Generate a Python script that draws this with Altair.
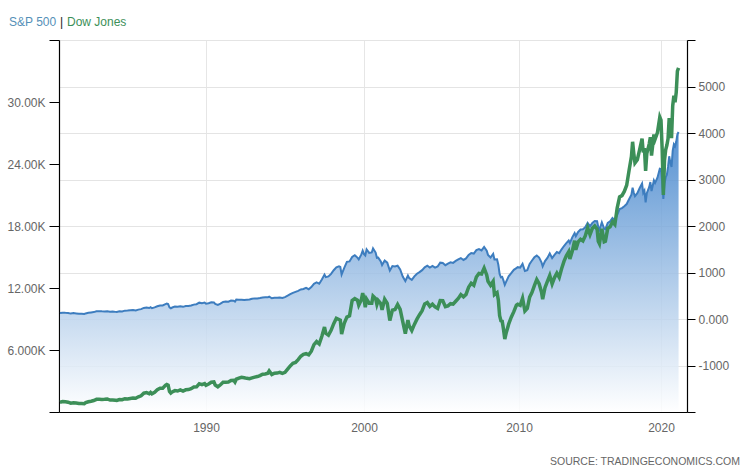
import altair as alt
import pandas as pd

# ---- data (month, Dow Jones, S&P 500) ----
months = [
 "1981-01","1981-03","1981-05","1981-07","1981-09","1981-11","1982-01","1982-03","1982-05","1982-07","1982-08","1982-10","1982-12",
 "1983-02","1983-04","1983-06","1983-08","1983-10","1983-12","1984-02","1984-04","1984-06","1984-07","1984-09","1984-11",
 "1985-01","1985-03","1985-05","1985-07","1985-09","1985-11","1986-01","1986-03","1986-05","1986-07","1986-08","1986-09","1986-11",
 "1987-01","1987-03","1987-05","1987-07","1987-08","1987-09","1987-10","1987-11","1987-12","1988-02","1988-04","1988-06","1988-08","1988-10","1988-12",
 "1989-02","1989-04","1989-06","1989-08","1989-10","1989-12","1990-01","1990-03","1990-05","1990-07","1990-08","1990-10","1990-12",
 "1991-02","1991-04","1991-06","1991-08","1991-10","1991-11","1991-12","1992-02","1992-04","1992-06","1992-08","1992-10","1992-12",
 "1993-02","1993-04","1993-06","1993-08","1993-10","1993-12","1994-01","1994-03","1994-05","1994-07","1994-09","1994-11",
 "1995-01","1995-03","1995-05","1995-07","1995-09","1995-11","1996-01","1996-03","1996-05","1996-07","1996-09","1996-11",
 "1997-01","1997-03","1997-05","1997-07","1997-08","1997-10","1997-12","1998-02","1998-04","1998-06","1998-07","1998-08","1998-10","1998-12",
 "1999-02","1999-04","1999-06","1999-08","1999-09","1999-11","1999-12","2000-01","2000-02","2000-03","2000-05","2000-07","2000-08","2000-10","2000-11","2000-12",
 "2001-02","2001-03","2001-05","2001-07","2001-09","2001-11","2002-01","2002-03","2002-05","2002-07","2002-09","2002-11","2002-12",
 "2003-02","2003-04","2003-06","2003-08","2003-10","2003-12","2004-02","2004-04","2004-06","2004-08","2004-10","2004-12",
 "2005-02","2005-04","2005-06","2005-08","2005-10","2005-12","2006-02","2006-04","2006-06","2006-08","2006-10","2006-12",
 "2007-02","2007-04","2007-06","2007-08","2007-10","2007-12","2008-01","2008-03","2008-05","2008-06","2008-08","2008-09","2008-10","2008-11","2008-12",
 "2009-01","2009-02","2009-03","2009-05","2009-07","2009-09","2009-11","2009-12","2010-02","2010-04","2010-06","2010-08","2010-10","2010-12",
 "2011-02","2011-04","2011-06","2011-08","2011-09","2011-11","2012-01","2012-03","2012-05","2012-07","2012-09","2012-11",
 "2013-01","2013-03","2013-05","2013-07","2013-08","2013-10","2013-12","2014-01","2014-03","2014-05","2014-07","2014-09","2014-11",
 "2015-01","2015-03","2015-05","2015-07","2015-08","2015-09","2015-11","2016-01","2016-02","2016-04","2016-06","2016-08","2016-10","2016-12",
 "2017-02","2017-04","2017-06","2017-08","2017-10","2017-12","2018-01","2018-02","2018-03","2018-05","2018-07","2018-09","2018-10","2018-11","2018-12",
 "2019-01","2019-03","2019-04","2019-05","2019-07","2019-08","2019-10","2019-12","2020-01","2020-02","2020-03","2020-04","2020-05","2020-06",
 "2020-07","2020-08","2020-09","2020-10","2020-11","2020-12","2021-01","2021-02","2021-03","2021-04",
]
dow = [
 947,1004,992,952,850,889,871,822,820,809,901,992,1046,
 1113,1226,1222,1216,1225,1259,1155,1171,1132,1115,1207,1189,
 1287,1267,1315,1348,1329,1472,1571,1819,1877,1775,1898,1768,1914,
 2158,2305,2292,2572,2663,2596,1994,1834,1939,2072,2032,2142,2032,2149,2169,
 2258,2419,2440,2737,2645,2753,2591,2707,2877,2905,2614,2442,2634,
 2882,2888,2907,3044,3069,2895,3169,3267,3359,3319,3257,3226,3301,
 3371,3428,3516,3651,3681,3754,3978,3636,3758,3765,3843,3739,
 3844,4158,4465,4709,4789,5075,5395,5588,5643,5529,5882,6522,
 6813,6584,7331,8223,7622,7442,7908,8546,9063,8952,8883,7539,8592,9181,
 9307,10789,10971,10829,10337,10878,11497,10941,10128,10922,10522,10522,11215,10971,10415,10788,
 10495,9879,10912,10523,8848,9852,9920,10404,9925,8737,7592,8896,8342,
 7891,8480,8985,9416,9801,10454,10584,10226,10435,10174,10027,10783,
 10766,10193,10275,10482,10440,10718,10993,11367,11150,11381,12081,12463,
 12269,13063,13409,13358,13930,13265,12650,12263,12638,11350,11544,10851,9325,8829,8776,
 8001,7063,7609,8500,9172,9712,10345,10428,10325,11009,9774,10015,11118,11578,
 12226,12811,12414,11614,10913,12046,12633,13212,12393,13009,13437,13026,
 13861,14579,15116,15500,14810,15546,16577,15699,16458,16717,16563,17043,17828,
 17165,17776,18011,17690,16528,16285,17720,16466,16517,17774,17930,18401,18142,19763,
 20812,20941,21350,21948,23377,24719,26149,25029,24103,24416,25415,26458,25116,25538,23327,
 24999,25929,26593,24815,26864,26403,27046,28538,28256,25409,21000,24346,25383,25813,
 26428,28430,27782,26502,29639,30606,29983,30932,32982,33300,
]
spx = [
 129.6,136.0,132.6,131.0,116.2,126.4,120.4,112.0,111.9,107.1,119.5,133.7,140.6,
 148.1,164.4,168.1,164.4,163.6,164.9,157.1,160.1,153.2,150.7,166.1,163.6,
 179.6,180.7,189.6,190.9,182.1,202.2,211.8,238.9,247.4,236.1,252.9,231.3,249.2,
 274.1,291.7,290.1,318.7,329.8,321.8,251.8,230.3,247.1,267.8,261.3,273.5,261.5,279.0,277.7,
 288.9,309.6,318.0,351.5,340.4,353.4,329.1,339.9,361.2,356.2,322.6,304.0,330.2,
 367.1,375.3,371.2,395.4,392.5,375.2,417.1,412.7,415.0,408.1,414.0,418.7,435.7,
 443.4,440.2,450.5,463.6,467.8,466.5,481.6,445.8,456.5,458.3,462.7,453.7,
 470.4,500.7,533.4,562.1,584.4,605.4,636.0,645.5,669.1,640.0,687.3,757.0,
 786.2,757.1,848.3,954.3,899.5,914.6,970.4,1049.3,1111.8,1133.8,1120.7,957.3,1098.7,1229.2,
 1238.3,1335.2,1372.7,1320.4,1282.7,1389.0,1469.3,1394.5,1366.4,1498.6,1420.6,1430.8,1517.7,1429.4,1315.0,1320.3,
 1239.9,1160.3,1255.8,1211.2,1040.9,1139.5,1130.2,1147.4,1067.1,911.6,815.3,936.3,879.8,
 841.2,916.9,974.5,1008.0,1050.7,1111.9,1144.9,1107.3,1140.8,1104.2,1130.2,1211.9,
 1203.6,1156.9,1191.3,1220.3,1207.0,1248.3,1280.7,1310.6,1270.2,1303.8,1377.9,1418.3,
 1406.8,1482.4,1503.4,1474.0,1549.4,1468.4,1378.6,1322.7,1400.4,1280.0,1282.8,1166.4,968.8,896.2,903.3,
 825.9,735.1,797.9,919.1,987.5,1057.1,1095.6,1115.1,1104.5,1186.7,1030.7,1049.3,1183.3,1257.6,
 1327.2,1363.6,1320.6,1218.9,1131.4,1247.0,1312.4,1408.5,1310.3,1379.3,1440.7,1416.2,
 1498.1,1569.2,1630.7,1685.7,1633.0,1756.5,1848.4,1782.6,1872.3,1923.6,1930.7,1972.3,2067.6,
 1995.0,2067.9,2107.4,2103.8,1972.2,1920.0,2080.4,1940.2,1932.2,2065.3,2098.9,2171.0,2126.2,2238.8,
 2363.6,2384.2,2423.4,2471.7,2575.3,2673.6,2823.8,2713.8,2640.9,2705.3,2816.3,2914.0,2711.7,2760.2,2506.9,
 2704.1,2834.4,2945.8,2752.1,2980.4,2926.5,3037.6,3230.8,3225.5,2954.2,2584.6,2912.4,3044.3,3100.3,
 3271.1,3500.3,3363.0,3270.0,3621.6,3756.1,3714.2,3811.2,3972.9,4020.0,
]

legend_parts = ["S&P 500", "|", "Dow Jones"]
source_text = ["SOURCE: TRADINGECONOMICS.COM"]
year_ticks = [1990, 2000, 2010, 2020]
dow_ticks = [0, 6000, 12000, 18000, 24000, 30000, 36000]
spx_ticks = [-2000, -1000, 0, 1000, 2000, 3000, 4000, 5000, 6000]

yr = [int(m[:4]) + (int(m[5:]) - 1) / 12 for m in months]
df = pd.DataFrame({"yr": yr, "dow": dow, "spx": spx})

FONT = "Liberation Sans"
LABEL = "#666666"
W, H = 628, 372

xscale = alt.Scale(domain=[1980.94, 1990, 2000, 2010, 2020, 2021.85],
                   range=[0, 147, 305, 460, 602, 628], nice=False, zero=False)
xaxis = alt.Axis(values=year_ticks, format="d", title=None, grid=True, gridColor="#e6e6e6",
                 tickSize=0, labelPadding=10, domainColor="#000000", domainWidth=1.2,
                 labelColor=LABEL, labelFontSize=12, labelFont=FONT)
X = alt.X("yr:Q", scale=xscale, axis=xaxis)

spx_scale = alt.Scale(domain=[-2000, 6000], nice=False, zero=False)
dow_scale = alt.Scale(domain=[0, 36000], nice=False, zero=False)

base = alt.Chart(df)

area = base.mark_area(
    color=alt.Gradient(gradient="linear",
                       stops=[alt.GradientStop(color="#3a7fca", offset=0),
                              alt.GradientStop(color="#ffffff", offset=1)],
                       x1=1, x2=1, y1=0, y2=1),
    opacity=0.85,
).encode(
    x=X,
    y=alt.Y("spx:Q", scale=spx_scale,
            axis=alt.Axis(orient="right", values=spx_ticks, title=None, grid=True,
                          gridColor="#e4e4e4", tickSize=8, tickColor="#000000",
                          domainColor="#000000", domainWidth=1.2, labelPadding=3,
                          labelColor=LABEL, labelFontSize=12, labelFont=FONT,
                          labelExpr="datum.value == -2000 || datum.value == 6000 ? '' : (datum.value == 0 ? '0.000' : toString(datum.value))")),
    y2=alt.datum(-2000),
)

spx_line = base.mark_line(color="#3d7dbf", strokeWidth=2).encode(
    x=X, y=alt.Y("spx:Q", scale=spx_scale, axis=None)
)

dow_line = base.mark_line(color="#3c8f58", strokeWidth=3.5).encode(
    x=X,
    y=alt.Y("dow:Q", scale=dow_scale,
            axis=alt.Axis(orient="left", values=dow_ticks, title=None, grid=False,
                          tickSize=10, tickColor="#000000", domainColor="#000000",
                          domainWidth=1.2, labelPadding=4,
                          labelColor=LABEL, labelFontSize=12, labelFont=FONT,
                          labelExpr="datum.value == 0 || datum.value == 36000 ? '' : (datum.value == 6000 ? '6.000K' : format(datum.value / 1000, '.2f') + 'K')")),
)

def label(txt, x, color, align="left"):
    return alt.Chart(pd.DataFrame({"t": [txt]})).mark_text(
        align=align, baseline="middle", font=FONT, fontSize=12, color=color
    ).encode(text="t:N", x=alt.value(x), y=alt.value(-18.5))

t1 = label(legend_parts[0], -50, "#5590b8")
t2 = label(legend_parts[1], 2.5, "#222222", align="center")
t3 = label(legend_parts[2], 8, "#3c8f58")

src = alt.Chart(pd.DataFrame({"t": source_text})).mark_text(
    align="right", baseline="middle", font=FONT, fontSize=10.5, color="#666666"
).encode(text="t:N", x=alt.value(681), y=alt.value(422))

chart = alt.layer(area, spx_line, dow_line, t1, t2, t3, src).resolve_scale(
    y="independent"
).properties(
    width=W, height=H,
    autosize=alt.AutoSizeParams(type="none"),
    padding={"left": 59, "top": 40, "right": 59, "bottom": 56},
).configure_view(strokeWidth=0).configure(background="#ffffff")

chart.save("out.html", embed_options={"renderer": "svg", "actions": False})
